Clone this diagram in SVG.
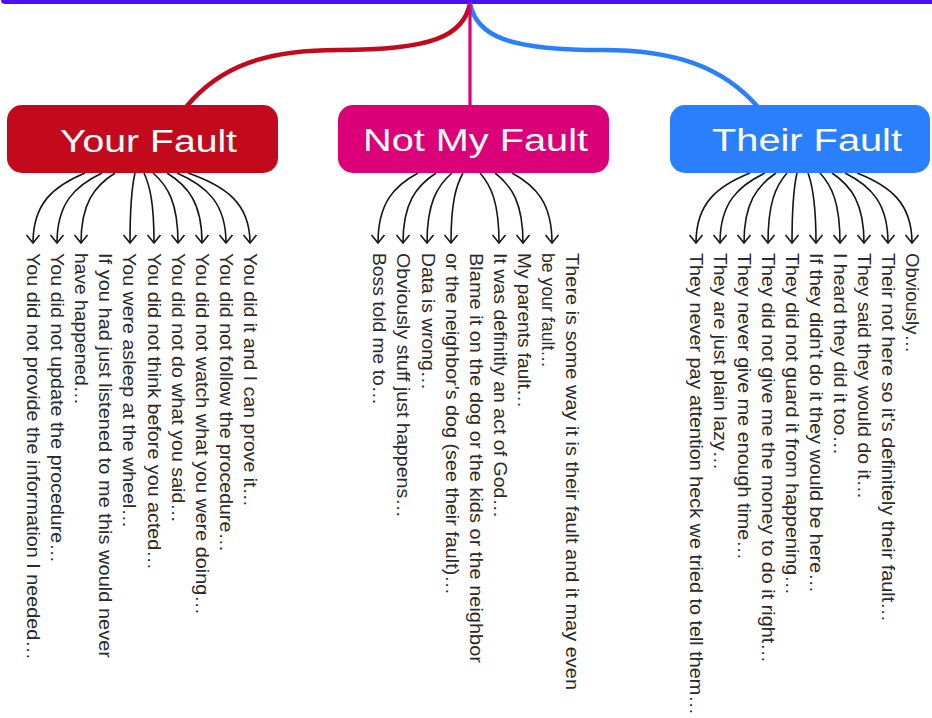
<svg xmlns="http://www.w3.org/2000/svg" width="932" height="718" viewBox="0 0 932 718">
<style>
.hdr{font-family:"Liberation Sans",Arial,sans-serif;font-size:31px;fill:#ffffff;}
.item{font-family:"Liberation Sans",Arial,sans-serif;font-size:19px;fill:#2a2a2a;}
.arr{fill:none;stroke:#151515;stroke-width:1.6;marker-end:url(#ah);}
.branch{fill:none;stroke-width:4.5;}
</style>
<defs>
<marker id="ah" markerUnits="userSpaceOnUse" viewBox="-10 -8 12 16" markerWidth="12" markerHeight="16" refX="0" refY="0" orient="auto" overflow="visible">
<path d="M-8,-6.5 L0,0 L-8,6.5" fill="none" stroke="#151515" stroke-width="1.6"/>
</marker>
</defs>
<rect width="932" height="718" fill="#ffffff"/>
<g id="root">
<rect x="1" y="-30" width="945" height="34" rx="4" fill="#4b10f2"/>
</g>
<g id="connectors">
<path class="branch" stroke="#c30a1c" d="M470,3 C464,36 432,50 338,50 C266,50 220,66 186,107"/>
<path class="branch" stroke="#2a7ffc" d="M470,3 C476,36 508,50 602,50 C674,50 722,66 758,107"/>
<path fill="none" stroke="#dc0078" stroke-width="3.2" d="M470,3 L470,106"/>
<path class="arr" d="M85,173 C53.8,186 33,203 33,243"/>
<path class="arr" d="M102,173 C75,186 57,203 57,243"/>
<path class="arr" d="M115,173 C94.6,186 81,203 81,243"/>
<path class="arr" d="M135,173 C132,186 130,203 130,243"/>
<path class="arr" d="M144,173 C150,186 154,203 154,243"/>
<path class="arr" d="M153,173 C168,186 178,203 178,243"/>
<path class="arr" d="M167,173 C188,186 202,203 202,243"/>
<path class="arr" d="M177,173 C206.4,186 226,203 226,243"/>
<path class="arr" d="M188,173 C225.2,186 250,203 250,243"/>
<path class="arr" d="M418,173 C394,186 378,203 378,243"/>
<path class="arr" d="M436,173 C416.2,186 403,203 403,243"/>
<path class="arr" d="M452,173 C437,186 427,203 427,243"/>
<path class="arr" d="M463,173 C455.8,186 451,203 451,243"/>
<path class="arr" d="M480,173 C491.4,186 499,203 499,243"/>
<path class="arr" d="M495,173 C511.8,186 523,203 523,243"/>
<path class="arr" d="M512,173 C536,186 552,203 552,243"/>
<path class="arr" d="M750,173 C717.6,186 696,203 696,243"/>
<path class="arr" d="M765,173 C738,186 720,203 720,243"/>
<path class="arr" d="M776,173 C756.8,186 744,203 744,243"/>
<path class="arr" d="M787,173 C775.6,186 768,203 768,243"/>
<path class="arr" d="M797,173 C794,186 792,203 792,243"/>
<path class="arr" d="M808,173 C812.8,186 816,203 816,243"/>
<path class="arr" d="M820,173 C832,186 840,203 840,243"/>
<path class="arr" d="M832,173 C851.2,186 864,203 864,243"/>
<path class="arr" d="M845,173 C870.8,186 888,203 888,243"/>
<path class="arr" d="M857,173 C890,186 912,203 912,243"/>
</g>
<g id="your-fault">
<rect x="7" y="105" width="271" height="68" rx="15" fill="#c30a1c"/>
<text class="hdr" x="60" y="152" textLength="177" lengthAdjust="spacingAndGlyphs">Your Fault</text>
</g>
<g id="not-my-fault">
<rect x="338" y="105" width="271" height="68" rx="15" fill="#dc0078"/>
<text class="hdr" x="363" y="151" textLength="225" lengthAdjust="spacingAndGlyphs">Not My Fault</text>
</g>
<g id="their-fault">
<rect x="670" y="105" width="260" height="68" rx="15" fill="#2a7ffc"/>
<text class="hdr" x="712" y="151" textLength="190" lengthAdjust="spacingAndGlyphs">Their Fault</text>
</g>
<g id="yf-items">
<text class="item" transform="translate(27,253) rotate(90)" textLength="407" lengthAdjust="spacingAndGlyphs">You did not provide the information I needed…</text>
<text class="item" transform="translate(51,253) rotate(90)" textLength="310" lengthAdjust="spacingAndGlyphs">You did not update the procedure…</text>
<text class="item" transform="translate(75.2,253) rotate(90)" textLength="152" lengthAdjust="spacingAndGlyphs">have happened…</text>
<text class="item" transform="translate(99.3,253) rotate(90)" textLength="405" lengthAdjust="spacingAndGlyphs">If you had just listened to me this would never</text>
<text class="item" transform="translate(123.4,253) rotate(90)" textLength="275" lengthAdjust="spacingAndGlyphs">You were asleep at the wheel…</text>
<text class="item" transform="translate(147.5,253) rotate(90)" textLength="317" lengthAdjust="spacingAndGlyphs">You did not think before you acted…</text>
<text class="item" transform="translate(171.6,253) rotate(90)" textLength="270" lengthAdjust="spacingAndGlyphs">You did not do what you said…</text>
<text class="item" transform="translate(195.7,253) rotate(90)" textLength="362" lengthAdjust="spacingAndGlyphs">You did not watch what you were doing…</text>
<text class="item" transform="translate(219.8,253) rotate(90)" textLength="299" lengthAdjust="spacingAndGlyphs">You did not follow the procedure…</text>
<text class="item" transform="translate(243.9,253) rotate(90)" textLength="254" lengthAdjust="spacingAndGlyphs">You did it and I can prove it…</text>
</g>
<g id="nmf-items">
<text class="item" transform="translate(373.3,253) rotate(90)" textLength="152" lengthAdjust="spacingAndGlyphs">Boss told me to…</text>
<text class="item" transform="translate(397.4,253) rotate(90)" textLength="265" lengthAdjust="spacingAndGlyphs">Obviously stuff just happens…</text>
<text class="item" transform="translate(421.5,253) rotate(90)" textLength="137" lengthAdjust="spacingAndGlyphs">Data is wrong…</text>
<text class="item" transform="translate(445.6,253) rotate(90)" textLength="342" lengthAdjust="spacingAndGlyphs">or the neighbor's dog (see their fault)…</text>
<text class="item" transform="translate(469.7,253) rotate(90)" textLength="410" lengthAdjust="spacingAndGlyphs">Blame it on the dog or the kids or the neighbor</text>
<text class="item" transform="translate(493.8,253) rotate(90)" textLength="265" lengthAdjust="spacingAndGlyphs">It was definitly an act of God…</text>
<text class="item" transform="translate(517.9,253) rotate(90)" textLength="155" lengthAdjust="spacingAndGlyphs">My parents fault…</text>
<text class="item" transform="translate(542,253) rotate(90)" textLength="115" lengthAdjust="spacingAndGlyphs">be your fault…</text>
<text class="item" transform="translate(566.1,253) rotate(90)" textLength="437" lengthAdjust="spacingAndGlyphs">There is some way it is their fault and it may even</text>
</g>
<g id="tf-items">
<text class="item" transform="translate(690,253) rotate(90)" textLength="462" lengthAdjust="spacingAndGlyphs">They never pay attention heck we tried to tell them…</text>
<text class="item" transform="translate(714,253) rotate(90)" textLength="217" lengthAdjust="spacingAndGlyphs">They are just plain lazy…</text>
<text class="item" transform="translate(738,253) rotate(90)" textLength="307" lengthAdjust="spacingAndGlyphs">They never give me enough time…</text>
<text class="item" transform="translate(762,253) rotate(90)" textLength="410" lengthAdjust="spacingAndGlyphs">They did not give me the money to do it right…</text>
<text class="item" transform="translate(786,253) rotate(90)" textLength="342" lengthAdjust="spacingAndGlyphs">They did not guard it from happening…</text>
<text class="item" transform="translate(810,253) rotate(90)" textLength="340" lengthAdjust="spacingAndGlyphs">If they didn't do it they would be here…</text>
<text class="item" transform="translate(834,253) rotate(90)" textLength="202" lengthAdjust="spacingAndGlyphs">I heard they did it too…</text>
<text class="item" transform="translate(858,253) rotate(90)" textLength="246" lengthAdjust="spacingAndGlyphs">They said they would do it…</text>
<text class="item" transform="translate(882,253) rotate(90)" textLength="369" lengthAdjust="spacingAndGlyphs">Their not here so it's definitely their fault…</text>
<text class="item" transform="translate(906,253) rotate(90)" textLength="100" lengthAdjust="spacingAndGlyphs">Obviously…</text>
</g>
</svg>
